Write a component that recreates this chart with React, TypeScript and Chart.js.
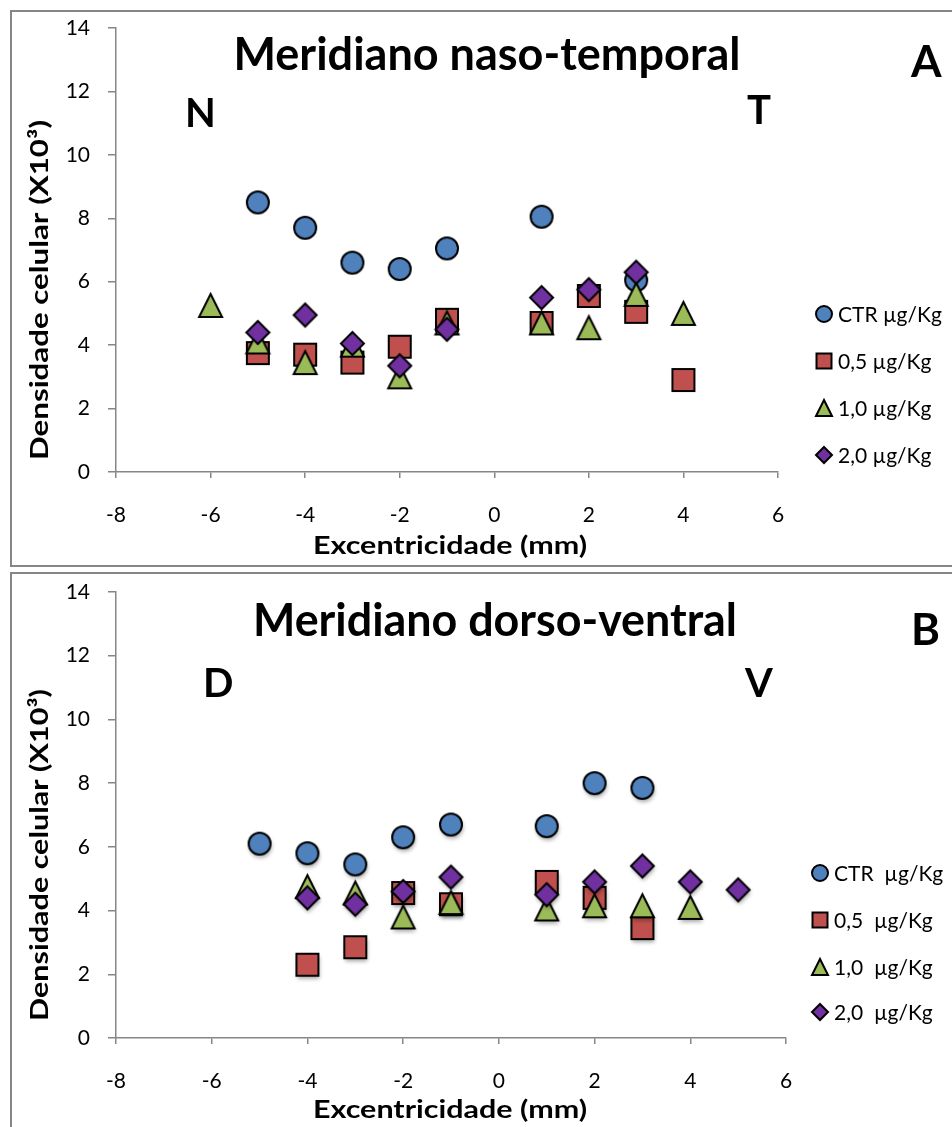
import React, { useEffect, useRef } from "react";
import { Chart, registerables } from "chart.js";

Chart.register(...registerables);

// ---------- DATA ----------
const xTickValues = [-8, -6, -4, -2, 0, 2, 4, 6];
const yTickValues = [0, 2, 4, 6, 8, 10, 12, 14];

const seriesNamesTop = ["CTR µg/Kg", "0,5 µg/Kg", "1,0 µg/Kg", "2,0 µg/Kg"];
const seriesNamesBottom = ["CTR  µg/Kg", "0,5  µg/Kg", "1,0  µg/Kg", "2,0  µg/Kg"];

// Panel A: Meridiano naso-temporal
const topCtrX = [-5, -4, -3, -2, -1, 1, 3];
const topCtrY = [8.5, 7.7, 6.6, 6.4, 7.05, 8.05, 6.05];
const top05X = [-5, -4, -3, -2, -1, 1, 2, 3, 4];
const top05Y = [3.75, 3.7, 3.45, 3.95, 4.8, 4.7, 5.55, 5.05, 2.9];
const top10X = [-6, -5, -4, -3, -2, -1, 1, 2, 3, 4];
const top10Y = [5.25, 4.1, 3.45, 4.0, 3.0, 4.7, 4.7, 4.55, 5.6, 5.0];
const top20X = [-5, -4, -3, -2, -1, 1, 2, 3];
const top20Y = [4.4, 4.95, 4.05, 3.35, 4.5, 5.5, 5.75, 6.3];

// Panel B: Meridiano dorso-ventral
const botCtrX = [-5, -4, -3, -2, -1, 1, 2, 3];
const botCtrY = [6.1, 5.8, 5.45, 6.3, 6.7, 6.65, 8.0, 7.85];
const bot05X = [-4, -3, -2, -1, 1, 2, 3];
const bot05Y = [2.3, 2.85, 4.55, 4.2, 4.9, 4.4, 3.45];
const bot10X = [-4, -3, -2, -1, 1, 2, 3, 4];
const bot10Y = [4.75, 4.55, 3.8, 4.25, 4.05, 4.15, 4.15, 4.1];
const bot20X = [-4, -3, -2, -1, 1, 2, 3, 4, 5];
const bot20Y = [4.4, 4.2, 4.6, 5.05, 4.5, 4.9, 5.4, 4.9, 4.65];

// ---------- STYLE ----------
const COLORS = ["#4F81BD", "#C0504D", "#9BBB59", "#7030A0"];
const SHAPES = ["circle", "square", "triangle", "diamond"];
const AXIS_GRAY = "#868686";
const FONT = "Lato, 'Open Sans', sans-serif";

function makeMarker(shape: string, half: number, fill: string, shadow: boolean) {
  const pad = shadow ? 9 : 3;
  const S = Math.ceil(half * 2 + pad * 2);
  const c = document.createElement("canvas");
  c.width = S;
  c.height = S;
  const g = c.getContext("2d")!;
  const cx = S / 2;
  const cy = S / 2;
  const h = half;
  g.beginPath();
  if (shape === "circle") {
    g.arc(cx, cy, h, 0, Math.PI * 2);
  } else if (shape === "square") {
    g.rect(cx - h, cy - h, 2 * h, 2 * h);
  } else if (shape === "triangle") {
    g.moveTo(cx, cy - h);
    g.lineTo(cx + h, cy + h);
    g.lineTo(cx - h, cy + h);
    g.closePath();
  } else {
    g.moveTo(cx, cy - h);
    g.lineTo(cx + h, cy);
    g.lineTo(cx, cy + h);
    g.lineTo(cx - h, cy);
    g.closePath();
  }
  if (shadow) {
    g.shadowColor = "rgba(0,0,0,0.35)";
    g.shadowBlur = 4;
    g.shadowOffsetX = 1;
    g.shadowOffsetY = 3;
  }
  g.fillStyle = fill;
  g.fill();
  g.shadowColor = "transparent";
  g.lineWidth = 2;
  g.strokeStyle = "#000";
  g.lineJoin = "miter";
  g.stroke();
  return c;
}

const MARKER_HALF = [11, 11, 11.5, 11.5];
const LEGEND_HALF = [8, 7.5, 8, 8];

type PanelCfg = {
  top: number;
  height: number;
  chartTop: number;
  chartBottom: number;
  chartRight: number;
  title: string;
  titleCX: number;
  titleBase: number;
  titleW: number;
  letter: string;
  letterX: number;
  letterBase: number;
  left: string;
  leftX: number;
  leftBase: number;
  right: string;
  rightX: number;
  rightBase: number;
  yTitleCY: number;
  yTitleW: number;
  xTitleCY: number;
  legendNames: string[];
  legendMarkX: number;
  legendTextX: number;
  legendRows: number[];
  shadow: boolean;
  xs: number[][];
  ys: number[][];
};

const panels: PanelCfg[] = [
  {
    top: 0,
    height: 568,
    chartTop: 28,
    chartBottom: 472,
    chartRight: 778,
    title: "Meridiano naso-temporal",
    titleCX: 487,
    titleBase: 70,
    titleW: 507,
    letter: "A",
    letterX: 911,
    letterBase: 77,
    left: "N",
    leftX: 185,
    leftBase: 127,
    right: "T",
    rightX: 747,
    rightBase: 124,
    yTitleCY: 290,
    yTitleW: 340,
    xTitleCY: 546,
    legendNames: seriesNamesTop,
    legendMarkX: 824,
    legendTextX: 838,
    legendRows: [314, 361, 408, 455],
    shadow: false,
    xs: [topCtrX, top05X, top10X, top20X],
    ys: [topCtrY, top05Y, top10Y, top20Y],
  },
  {
    top: 568,
    height: 559,
    chartTop: 592,
    chartBottom: 1038,
    chartRight: 786,
    title: "Meridiano dorso-ventral",
    titleCX: 495,
    titleBase: 636,
    titleW: 484,
    letter: "B",
    letterX: 911,
    letterBase: 645,
    left: "D",
    leftX: 203,
    leftBase: 697,
    right: "V",
    rightX: 745,
    rightBase: 697,
    yTitleCY: 855,
    yTitleW: 332,
    xTitleCY: 1110,
    legendNames: seriesNamesBottom,
    legendMarkX: 820,
    legendTextX: 834,
    legendRows: [873, 920, 967, 1012],
    shadow: true,
    xs: [botCtrX, bot05X, bot10X, bot20X],
    ys: [botCtrY, bot05Y, bot10Y, bot20Y],
  },
];

// draw text centered at (0,0) of current transform, stretched/compressed to a width
function fitText(ctx: CanvasRenderingContext2D, text: string, width: number) {
  const w = ctx.measureText(text).width;
  const sx = width / w;
  ctx.save();
  ctx.scale(sx, 1);
  ctx.fillText(text, 0, 0);
  ctx.restore();
}

function decorPlugin(p: PanelCfg) {
  const legendMarkers = SHAPES.map((s, i) => makeMarker(s, LEGEND_HALF[i], COLORS[i], false));
  return {
    id: "decor",
    afterDraw(chart: any) {
      const ctx = chart.ctx as CanvasRenderingContext2D;
      const o = p.top;
      ctx.save();
      ctx.fillStyle = "#000";
      ctx.textBaseline = "alphabetic";
      // main title
      ctx.font = `bold 46px ${FONT}`;
      ctx.textAlign = "center";
      ctx.fillText(p.title, p.titleCX, p.titleBase - o, p.titleW);
      // letters
      ctx.textAlign = "left";
      ctx.font = `bold 44px ${FONT}`;
      ctx.fillText(p.letter, p.letterX, p.letterBase - o);
      ctx.font = `bold 40px ${FONT}`;
      ctx.fillText(p.left, p.leftX, p.leftBase - o);
      ctx.fillText(p.right, p.rightX, p.rightBase - o);
      // axis titles
      ctx.font = `bold 25px ${FONT}`;
      ctx.textAlign = "center";
      ctx.textBaseline = "middle";
      ctx.save();
      ctx.translate(450, p.xTitleCY - o);
      fitText(ctx, "Excentricidade (mm)", 274);
      ctx.restore();
      ctx.save();
      ctx.translate(40, p.yTitleCY - o);
      ctx.rotate(-Math.PI / 2);
      fitText(ctx, "Densidade celular (X10³)", p.yTitleW);
      ctx.restore();
      // legend
      ctx.font = `21px ${FONT}`;
      ctx.textAlign = "left";
      ctx.textBaseline = "middle";
      p.legendNames.forEach((name, i) => {
        const m = legendMarkers[i];
        const y = p.legendRows[i] - o;
        ctx.drawImage(m, p.legendMarkX - m.width / 2, y - m.height / 2);
        ctx.fillText(name, p.legendTextX, y + 1);
      });
      ctx.restore();
    },
  };
}

function Panel({ p }: { p: PanelCfg }) {
  const ref = useRef<HTMLCanvasElement>(null);
  useEffect(() => {
    const markers = SHAPES.map((s, i) => makeMarker(s, MARKER_HALF[i], COLORS[i], p.shadow));
    const datasets = p.xs.map((xv, si) => ({
      label: p.legendNames[si],
      data: xv.map((x, k) => ({ x, y: p.ys[si][k] })),
      pointStyle: markers[si] as any,
      pointRadius: 12,
      pointHoverRadius: 12,
      order: 4 - si,
      showLine: false,
    }));
    const chartH = p.chartBottom - p.top;
    const chart = new Chart(ref.current!, {
      type: "scatter",
      data: { datasets },
      options: {
        responsive: false,
        animation: false,
        events: [],
        layout: {
          padding: { left: 0, top: p.chartTop - p.top, right: 952 - p.chartRight, bottom: 0 },
        },
        plugins: { legend: { display: false }, tooltip: { enabled: false } },
        scales: {
          x: {
            type: "linear",
            min: -8,
            max: 6,
            afterBuildTicks: (s: any) => {
              s.ticks = xTickValues.map((v) => ({ value: v }));
            },
            afterFit: (s: any) => {
              s.height = p.height - chartH;
              s.paddingLeft = 0;
              s.paddingRight = 0;
            },
            grid: {
              drawOnChartArea: false,
              drawTicks: true,
              tickLength: 6,
              color: AXIS_GRAY,
              lineWidth: 1.5,
            },
            border: { color: AXIS_GRAY, width: 1.5 },
            ticks: {
              padding: 25,
              color: "#000",
              font: { family: FONT, size: 21 },
              callback: (v: any) => String(v),
              maxRotation: 0,
              autoSkip: false,
            },
          },
          y: {
            type: "linear",
            min: 0,
            max: 14,
            afterBuildTicks: (s: any) => {
              s.ticks = yTickValues.map((v) => ({ value: v }));
            },
            afterFit: (s: any) => {
              s.width = 116;
              s.paddingTop = 0;
              s.paddingBottom = 0;
            },
            grid: {
              drawOnChartArea: false,
              drawTicks: true,
              tickLength: 8,
              color: AXIS_GRAY,
              lineWidth: 1.5,
            },
            border: { color: AXIS_GRAY, width: 1.5 },
            ticks: {
              padding: 18,
              color: "#000",
              font: { family: FONT, size: 21 },
              callback: (v: any) => String(v),
              autoSkip: false,
            },
          },
        },
      },
      plugins: [decorPlugin(p)],
    });
    return () => chart.destroy();
  }, []);
  return (
    <canvas
      ref={ref}
      width={952}
      height={p.height}
      style={{ position: "absolute", left: 0, top: p.top, width: 952, height: p.height }}
    />
  );
}

export default function App() {
  return (
    <div
      style={{
        position: "fixed",
        left: 0,
        top: 0,
        width: 952,
        height: 1127,
        overflow: "hidden",
        background: "#fff",
      }}
    >
      <div
        style={{
          position: "absolute",
          left: 10,
          top: 10,
          width: 980,
          height: 557,
          border: `2px solid ${AXIS_GRAY}`,
          boxSizing: "border-box",
        }}
      />
      <div
        style={{
          position: "absolute",
          left: 10,
          top: 572,
          width: 980,
          height: 620,
          border: `2px solid ${AXIS_GRAY}`,
          boxSizing: "border-box",
        }}
      />
      {panels.map((p, i) => (
        <Panel key={i} p={p} />
      ))}
    </div>
  );
}
